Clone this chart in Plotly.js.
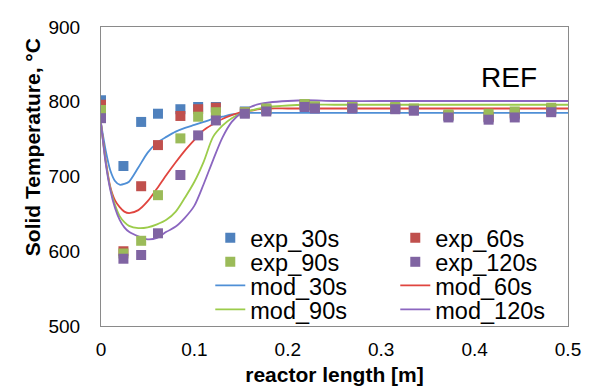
<!DOCTYPE html>
<html>
<head>
<meta charset="utf-8">
<script src="https://cdn.plot.ly/plotly-3.0.1.min.js"></script>
<style>html,body{margin:0;padding:0;background:#fff}#chart{width:592px;height:390px}</style>
</head>
<body>
<div id="chart"></div>
<script>
// Experimental points
const expX = [0, 0.024, 0.043, 0.061, 0.085, 0.104, 0.123, 0.154, 0.177, 0.218, 0.229, 0.269, 0.315, 0.335, 0.372, 0.415, 0.443, 0.482];
const exp30  = [802, 714, 773, 784, 790, 793, 793, 787, 789, 795, 792, 792, 791, 789, 781, 779, 783, 788];
const exp60  = [796, 600, 687, 742, 781, 790, 792, 786, 790, 796, 793, 793, 792, 790, 782, 780, 785, 790];
const exp90  = [789, 597, 614, 675, 751, 780, 786, 786, 791, 797, 794, 793, 793, 791, 783, 784, 787, 792];
const exp120 = [778, 590, 595, 624, 702, 755, 775, 784, 787, 793, 791, 791, 790, 788, 779, 776, 779, 786];

// Model curves
const modX   = [0, 0.005, 0.01, 0.015, 0.02, 0.025, 0.03, 0.04, 0.05, 0.06, 0.07, 0.08, 0.09, 0.1, 0.11, 0.12, 0.13, 0.14, 0.15, 0.16, 0.17, 0.18, 0.2, 0.22, 0.25, 0.3, 0.4, 0.5];
const mod30  = [771, 735, 708, 694, 689, 690, 693, 712, 732, 745, 753, 760, 765, 769, 773, 777, 780, 783, 784, 785, 785, 785, 785, 785, 785, 785, 785, 785];
const mod60  = [771, 722, 686, 668, 659, 653, 651, 655, 667, 684, 702, 719, 735, 749, 762, 770, 777, 782, 786, 788, 790, 791, 791, 791, 791, 791, 791, 791];
const mod90  = [771, 720, 684, 662, 647, 639, 634, 631, 632, 636, 642, 653, 672, 693, 720, 753, 768, 778, 784, 788, 791, 793, 795, 796, 796, 796, 796, 796];
const mod120 = [771, 718, 682, 658, 642, 632, 626, 620, 616, 618, 626, 633, 645, 661, 690, 722, 752, 773, 785, 793, 797, 799, 801, 802, 801, 801, 801, 801];

const names = ['30s', '60s', '90s', '120s'];
const markerColors = ['#4F81BD', '#C0504D', '#9BBB59', '#8064A2'];
const lineColors = ['#4F8FD6', '#E0453F', '#9CCC4B', '#8B66C0'];
const expSeries = [exp30, exp60, exp90, exp120];
const modSeries = [mod30, mod60, mod90, mod120];

const FONT = 'Arial, "Liberation Sans", sans-serif';
const traces = [];
// model lines first (drawn beneath markers)
modSeries.forEach((y, i) => {
  traces.push({
    x: modX, y: y, type: 'scatter', mode: 'lines', name: 'mod_' + names[i],
    line: {color: lineColors[i], width: 1.8, shape: 'spline', smoothing: 0.8},
    legend: i < 2 ? 'legend3' : 'legend4'
  });
});
expSeries.forEach((y, i) => {
  traces.push({
    x: expX, y: y, type: 'scatter', mode: 'markers', name: 'exp_' + names[i],
    marker: {color: markerColors[i], size: 10, symbol: 'square', line: {width: 0}},
    legend: i < 2 ? 'legend' : 'legend2'
  });
});

const legBase = (y) => ({
  orientation: 'h', x: 0.2335, xanchor: 'left', y: y, yanchor: 'middle',
  entrywidth: 140, entrywidthmode: 'pixels', bgcolor: 'rgba(0,0,0,0)',
  borderwidth: 0, font: {family: FONT, size: 23.5, color: '#000'}, traceorder: 'normal'
});

const layout = {
  width: 592, height: 390,
  margin: {l: 101, r: 23, t: 27, b: 64},
  paper_bgcolor: '#fff', plot_bgcolor: '#fff',
  font: {family: FONT, color: '#000'},
  showlegend: true,
  xaxis: {
    range: [0, 0.5], tickvals: [0, 0.1, 0.2, 0.3, 0.4, 0.5],
    ticktext: ['0', '0.1', '0.2', '0.3', '0.4', '0.5'],
    showgrid: false, zeroline: false, showline: true, mirror: true,
    linecolor: '#8a8a8a', linewidth: 1, ticks: '', ticklabelstandoff: 6,
    tickfont: {family: FONT, size: 19, color: '#000'},
    title: {text: '<b>reactor length [m]</b>', font: {family: FONT, size: 21, color: '#000'}, standoff: 8}
  },
  yaxis: {
    range: [500, 900], tickvals: [500, 600, 700, 800, 900],
    showgrid: false, zeroline: false, showline: true, mirror: true,
    linecolor: '#8a8a8a', linewidth: 1, ticks: '', ticklabelstandoff: 16,
    tickfont: {family: FONT, size: 19, color: '#000'}
  },
  legend: legBase(0.294),
  legend2: legBase(0.214),
  legend3: legBase(0.135),
  legend4: legBase(0.055),
  annotations: [
    {text: '<b>Solid Temperature, °C</b>', textangle: -90, xref: 'paper', yref: 'paper',
     x: -0.145, y: 0.599, xanchor: 'center', yanchor: 'middle', showarrow: false,
     font: {family: FONT, size: 21, color: '#000'}},
    {text: 'REF', xref: 'paper', yref: 'paper', x: (510 - 101) / 468, y: (326 - 77) / 299,
     xanchor: 'center', yanchor: 'middle', showarrow: false,
     font: {family: FONT, size: 28, color: '#000'}}
  ]
};

Plotly.newPlot('chart', traces, layout, {displayModeBar: false, staticPlot: true});
</script>
</body>
</html>
